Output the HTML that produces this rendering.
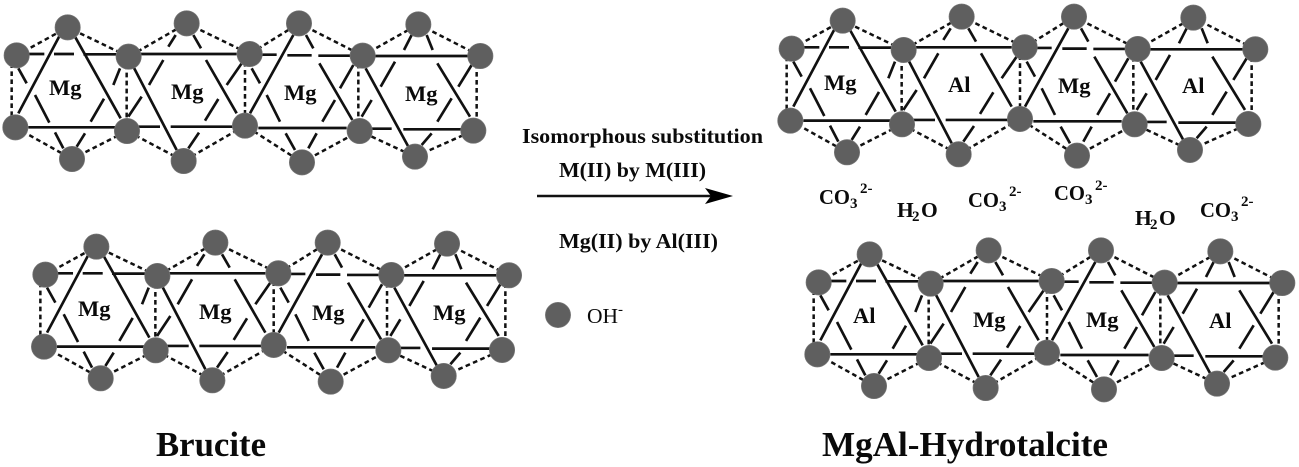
<!DOCTYPE html>
<html><head><meta charset="utf-8"><style>
html,body{margin:0;padding:0;background:#fff;width:1299px;height:467px;overflow:hidden}
svg{display:block}
text{font-family:"Liberation Serif",serif;font-weight:bold;fill:#0a0a0a}
</style></head><body>
<svg width="1299" height="467" viewBox="0 0 1299 467" xmlns="http://www.w3.org/2000/svg">
<defs>
<g id="L" transform="scale(.33333)">
<path fill="none" stroke="#111" stroke-width="7.5" stroke-dasharray="14 10" d="M50 166L203 82L386 170L560 70L749 162L897 70L1088 167L1255 73L1441 168M46 382L216 477L381 393L551 483L735 377L906 487L1079 393L1245 470L1420 392M35 166V382M380 170V393M735 162V377M1075 167V393M1430 168V392"/>
<path fill="none" stroke="#111" stroke-width="8" d="M85 162H133M162 162H222M250 163H350M420 162H710M785 164H830M862 166H935M955 167H1050M1125 168H1405M85 382H350M415 380H480M512 380H700M775 384H1040M1115 386H1175M1210 388H1385
M180 105L55 340M225 110L362 355M55 205L80 250M105 285L148 368M165 397L190 445M230 440L255 400M272 365L312 296M340 255L360 205
M400 200L530 450M565 445L597 398M615 362L655 297M680 255L725 190M527 105L505 140M490 180L447 255M425 290L385 350M580 105L603 145M618 180L710 340
M880 105L750 340M918 105L940 145M958 190L1057 360M755 205L780 250M800 285L840 365M857 400L885 450M925 445L950 400M967 365L1005 300M1020 265L1060 195
M1097 205L1225 440M1265 435L1295 400M1312 365L1355 295M1375 260L1415 195M1235 105L1212 150M1185 185L1142 260M1115 300L1085 350M1280 105L1298 150M1312 190L1410 350"/>
<g fill="#5f5f5f" stroke="#777" stroke-width="2">
<circle cx="203" cy="82" r="38"/><circle cx="560" cy="70" r="38"/><circle cx="897" cy="70" r="38"/><circle cx="1255" cy="73" r="38"/>
<circle cx="50" cy="166" r="38"/><circle cx="386" cy="170" r="38"/><circle cx="749" cy="162" r="38"/><circle cx="1088" cy="167" r="38"/><circle cx="1441" cy="168" r="38"/>
<circle cx="46" cy="382" r="38"/><circle cx="381" cy="393" r="38"/><circle cx="735" cy="377" r="38"/><circle cx="1079" cy="393" r="38"/><circle cx="1420" cy="392" r="38"/>
<circle cx="216" cy="477" r="38"/><circle cx="551" cy="483" r="38"/><circle cx="906" cy="487" r="38"/><circle cx="1245" cy="470" r="38"/>
</g>
</g>
</defs>
<use href="#L"/>
<use href="#L" transform="translate(775,-6.7)"/>
<use href="#L" transform="translate(28.7,219.3)"/>
<use href="#L" transform="translate(802,227)"/>

<g font-size="22.5">
<text x="49" y="95">Mg</text><text x="171" y="99">Mg</text><text x="284" y="100">Mg</text><text x="405" y="101">Mg</text>
<text x="824" y="90">Mg</text><text x="948" y="92">Al</text><text x="1058" y="93">Mg</text><text x="1182" y="93">Al</text>
<text x="78" y="316">Mg</text><text x="199" y="319">Mg</text><text x="312" y="320">Mg</text><text x="433" y="320">Mg</text>
<text x="853" y="323">Al</text><text x="973" y="327">Mg</text><text x="1086" y="327">Mg</text><text x="1209" y="328">Al</text>
</g>

<text x="522" y="143" font-size="21.5" textLength="241" lengthAdjust="spacingAndGlyphs">Isomorphous substitution</text>
<text x="559" y="177" font-size="21.5" textLength="147" lengthAdjust="spacingAndGlyphs">M(II) by M(III)</text>
<text x="559" y="248" font-size="21.5" textLength="159" lengthAdjust="spacingAndGlyphs">Mg(II) by Al(III)</text>
<line x1="537" y1="196" x2="712" y2="196" stroke="#111" stroke-width="2.4"/>
<path d="M733 196L705 188L711 196L705 204Z" fill="#000"/>

<circle cx="558" cy="315" r="12.6" fill="#5f5f5f" stroke="#777" stroke-width=".7"/>
<text x="587" y="323" font-size="21.5" style="font-weight:normal">OH</text><text x="618" y="314" font-size="15" style="font-weight:normal">-</text>

<g font-size="21.5">
<text x="819" y="204" textLength="31" lengthAdjust="spacingAndGlyphs">CO</text><text x="850" y="208" font-size="15">3</text><text x="860" y="193" font-size="15">2-</text>
<text x="897" y="217">H</text><text x="912" y="221" font-size="15">2</text><text x="921" y="217">O</text>
<text x="968" y="207" textLength="31" lengthAdjust="spacingAndGlyphs">CO</text><text x="999" y="211" font-size="15">3</text><text x="1009" y="196" font-size="15">2-</text>
<text x="1054" y="200" textLength="31" lengthAdjust="spacingAndGlyphs">CO</text><text x="1085" y="204" font-size="15">3</text><text x="1095" y="190" font-size="15">2-</text>
<text x="1135" y="225">H</text><text x="1150" y="229" font-size="15">2</text><text x="1159" y="225">O</text>
<text x="1200" y="217" textLength="31" lengthAdjust="spacingAndGlyphs">CO</text><text x="1231" y="221" font-size="15">3</text><text x="1241" y="206" font-size="15">2-</text>
</g>

<text x="156" y="456" font-size="34.5" textLength="110" lengthAdjust="spacingAndGlyphs">Brucite</text>
<text x="822" y="456" font-size="34.5" textLength="286" lengthAdjust="spacingAndGlyphs">MgAl-Hydrotalcite</text>
</svg>
</body></html>
